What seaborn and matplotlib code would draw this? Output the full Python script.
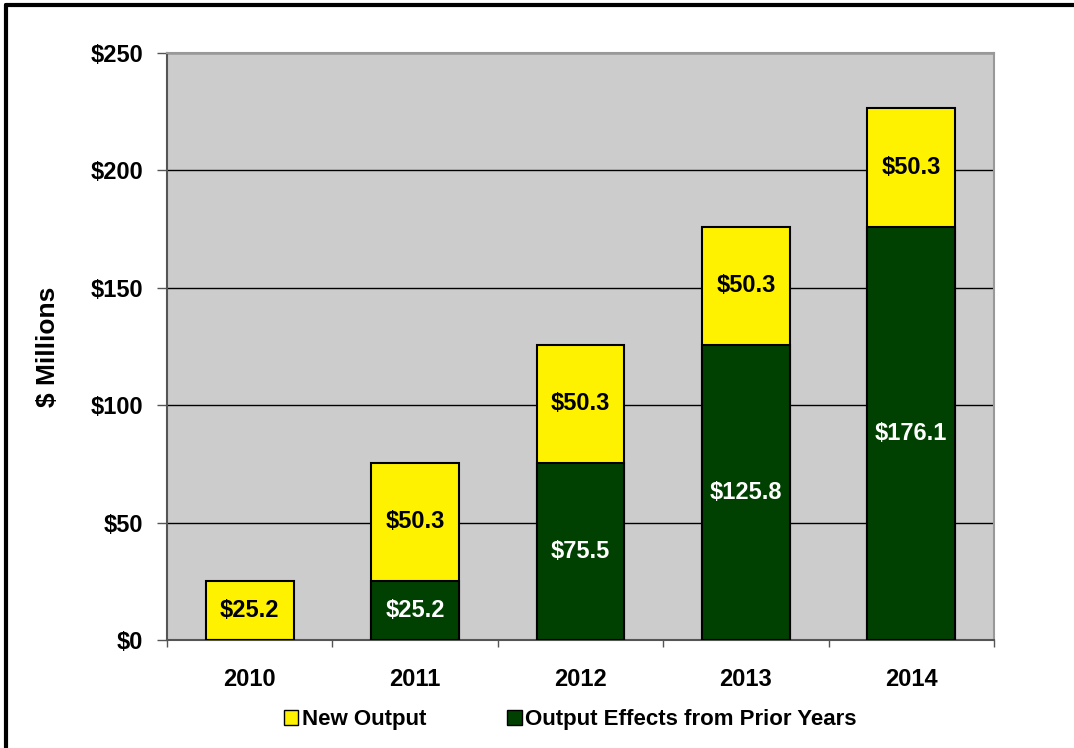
import numpy as np
import pandas as pd
import seaborn as sns
import matplotlib.pyplot as plt
from matplotlib.patches import Patch
from matplotlib.lines import Line2D

years = ['2010', '2011', '2012', '2013', '2014']
prior_years = [0.0, 25.2, 75.5, 125.8, 176.1]
new_output = [25.2, 50.3, 50.3, 50.3, 50.3]
y_ticks = [0, 50, 100, 150, 200, 250]
y_tick_labels = ['$0', '$50', '$100', '$150', '$200', '$250']

yellow = '#FFF200'
green = '#004000'

sns.set_style('white')
plt.rcParams['font.family'] = ['Liberation Sans', 'DejaVu Sans']
plt.rcParams['font.weight'] = 'bold'
plt.rcParams['text.color'] = 'black'
plt.rcParams['axes.labelcolor'] = 'black'
plt.rcParams['xtick.color'] = 'black'
plt.rcParams['ytick.color'] = 'black'

df = pd.DataFrame({'year': years, 'prior': prior_years, 'new': new_output})
df['total'] = df['prior'] + df['new']

fig = plt.figure(figsize=(10.74, 7.48), dpi=100)
ax = fig.add_axes([167 / 1074, 1 - 640 / 748, (994 - 167) / 1074, (640 - 53) / 748])
ax.set_facecolor('#CCCCCC')

# stacked bars: total first (yellow), prior drawn over it (green)
sns.barplot(data=df, x='year', y='total', color=yellow, edgecolor='black',
            linewidth=1.5, width=0.53, saturation=1, ax=ax, zorder=3)
sns.barplot(data=df, x='year', y='prior', color=green, edgecolor='black',
            linewidth=1.5, width=0.53, saturation=1, ax=ax, zorder=4)

# value labels
for i, row in df.iterrows():
    if row['prior'] > 0:
        ax.text(i, row['prior'] / 2, f"${row['prior']:.1f}", ha='center', va='center',
                color='white', fontsize=17, fontweight='bold', zorder=5)
    ax.text(i, row['prior'] + row['new'] / 2, f"${row['new']:.1f}", ha='center', va='center',
            color='black', fontsize=17, fontweight='bold', zorder=5)

ax.set_xlim(-0.5, len(years) - 0.5)
ax.set_ylim(0, 250)
ax.set_yticks(y_ticks)
ax.set_yticklabels(y_tick_labels, fontsize=17, fontweight='bold')
ax.tick_params(axis='y', length=7, width=1, color='#555555', direction='out', pad=10, left=True)
ax.tick_params(axis='x', which='major', length=0, pad=20, labelsize=17)
# small ticks between categories
ax.set_xticks(np.arange(len(years) + 1) - 0.5, minor=True)
ax.tick_params(axis='x', which='minor', length=5, width=1, color='#555555', direction='out', bottom=True)
for lbl in ax.get_xticklabels():
    lbl.set_fontweight('bold')
ax.yaxis.grid(True, color='black', linewidth=1)
ax.set_axisbelow(True)
ax.set_xlabel('')
ax.set_ylabel('$ Millions', fontsize=19, fontweight='bold', labelpad=22)

for side in ['top', 'right']:
    ax.spines[side].set_color('#999999')
    ax.spines[side].set_linewidth(1.5)
for side in ['left', 'bottom']:
    ax.spines[side].set_color('#555555')
    ax.spines[side].set_linewidth(1.5)

handles = [Patch(facecolor=yellow, edgecolor='black', label='New Output'),
           Patch(facecolor=green, edgecolor='black', label='Output Effects from Prior Years')]
fig.legend(handles=handles, loc='center', bbox_to_anchor=(0.531, 1 - 720 / 748), ncol=2,
           frameon=False, fontsize=16, handlelength=0.65, handleheight=0.65,
           handletextpad=0.15, columnspacing=3.65)

# outer border of the figure
fig.add_artist(Line2D([6 / 1074, 6 / 1074], [0, 1 - 5 / 748], color='black', linewidth=3,
                      transform=fig.transFigure))
fig.add_artist(Line2D([6 / 1074, 1], [1 - 5 / 748, 1 - 5 / 748], color='black', linewidth=3,
                      transform=fig.transFigure))

fig.savefig('out.png', dpi=100)
